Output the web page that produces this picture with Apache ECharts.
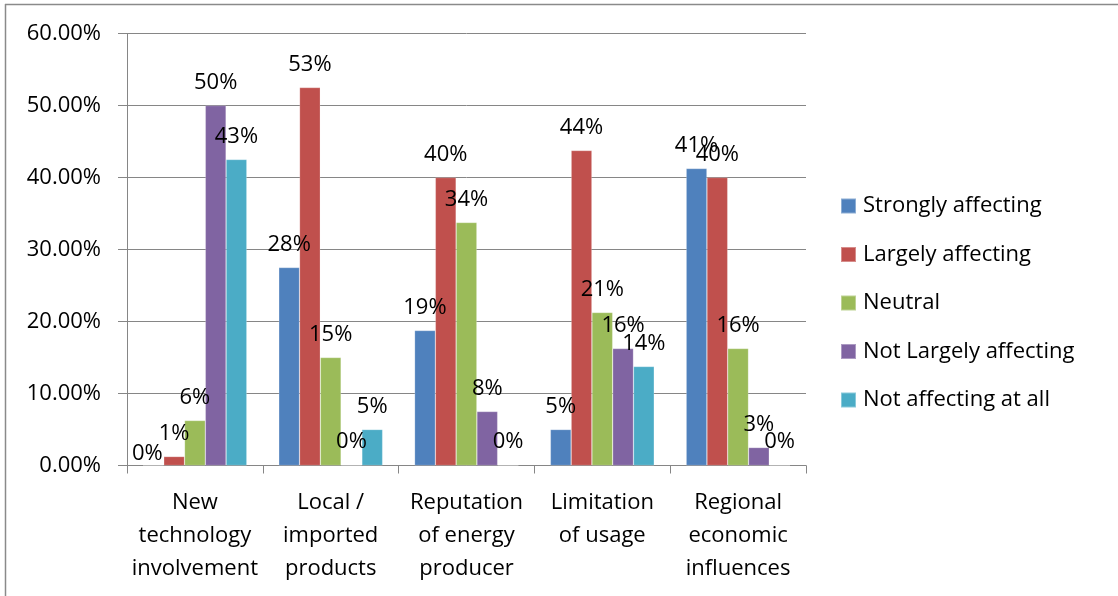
<!DOCTYPE html>
<html>
<head>
<meta charset="utf-8">
<script src="https://cdn.jsdelivr.net/npm/echarts@6/dist/echarts.min.js"></script>
<style>
  html, body { margin: 0; padding: 0; background: #fff; }
  #chart { width: 1118px; height: 596px; }
</style>
</head>
<body>
<div id="chart"></div>
<script>
// Factors and the share of respondents choosing each rating (percent)
const categories = [
  'New\ntechnology\ninvolvement',
  'Local /\nimported\nproducts',
  'Reputation\nof energy\nproducer',
  'Limitation\nof usage',
  'Regional\neconomic\ninfluences'
];
const seriesNames = [
  'Strongly affecting',
  'Largely affecting',
  'Neutral',
  'Not Largely affecting',
  'Not affecting at all'
];
const stronglyAffecting   = [0, 27.5, 18.75, 5, 41.25];
const largelyAffecting    = [1.25, 52.5, 40, 43.75, 40];
const neutral             = [6.25, 15, 33.75, 21.25, 16.25];
const notLargelyAffecting = [50, 0, 7.5, 16.25, 2.5];
const notAffectingAtAll   = [42.5, 5, 0, 13.75, 0];
const yTicks = [0, 10, 20, 30, 40, 50, 60];

const seriesValues = [stronglyAffecting, largelyAffecting, neutral, notLargelyAffecting, notAffectingAtAll];
const colors = ['#4F81BD', '#C0504D', '#9BBB59', '#8064A2', '#4BACC6'];
const FONT = '"Open Sans", "Noto Sans", sans-serif';
const FS = 22;

const chart = echarts.init(document.getElementById('chart'), null, { renderer: 'canvas' });

const series = seriesNames.map((name, i) => ({
  name: name,
  type: 'bar',
  barGap: '0%',
  barCategoryGap: '23.5%',
  itemStyle: { color: colors[i], borderColor: 'rgba(255,255,255,0.35)', borderWidth: 0.6 },
  label: {
    show: true,
    position: 'top',
    distance: 12,
    color: '#000',
    fontFamily: FONT,
    fontSize: FS,
    formatter: p => Math.round(p.value) + '%'
  },
  data: seriesValues[i].map((v, j) => {
    // the zero label of the first group sits lower, next to the axis
    if (i === 0 && j === 0) {
      return { value: v, label: { offset: [-6, 12] } };
    }
    return v;
  })
}));

chart.setOption({
  backgroundColor: '#fff',
  animation: false,
  color: colors,
  graphic: [
    { type: 'line', shape: { x1: 5, y1: 4.5, x2: 1118, y2: 4.5 }, style: { stroke: '#8a8a8a', lineWidth: 1.5 } },
    { type: 'line', shape: { x1: 5.5, y1: 4, x2: 5.5, y2: 596 }, style: { stroke: '#8a8a8a', lineWidth: 1.5 } }
  ],
  grid: { left: 127, right: 312, top: 33.5, bottom: 130.5, containLabel: false },
  legend: {
    orient: 'vertical',
    left: 840,
    top: 195,
    padding: 0,
    itemWidth: 15,
    itemHeight: 15,
    itemGap: 26.5,
    icon: 'rect',
    textStyle: { fontFamily: FONT, fontSize: FS, color: '#000', lineHeight: 20, padding: [0, 0, 0, 2] },
    data: seriesNames
  },
  xAxis: {
    type: 'category',
    data: categories,
    axisLine: { show: true, lineStyle: { color: '#868686', width: 1 } },
    axisTick: { show: true, length: 8, lineStyle: { color: '#868686' } },
    axisLabel: {
      color: '#000',
      fontFamily: FONT,
      fontSize: FS,
      lineHeight: 33,
      margin: 21,
      interval: 0
    }
  },
  yAxis: {
    type: 'value',
    min: yTicks[0],
    max: yTicks[yTicks.length - 1],
    interval: yTicks[1] - yTicks[0],
    axisLine: { show: true, lineStyle: { color: '#868686', width: 1 } },
    axisTick: { show: true, inside: false, length: 9, lineStyle: { color: '#868686' } },
    splitLine: { show: true, lineStyle: { color: '#868686', width: 1 } },
    axisLabel: {
      color: '#000',
      fontFamily: FONT,
      fontSize: FS,
      margin: 26,
      formatter: v => v.toFixed(2) + '%'
    }
  },
  series: series
});
</script>
</body>
</html>
